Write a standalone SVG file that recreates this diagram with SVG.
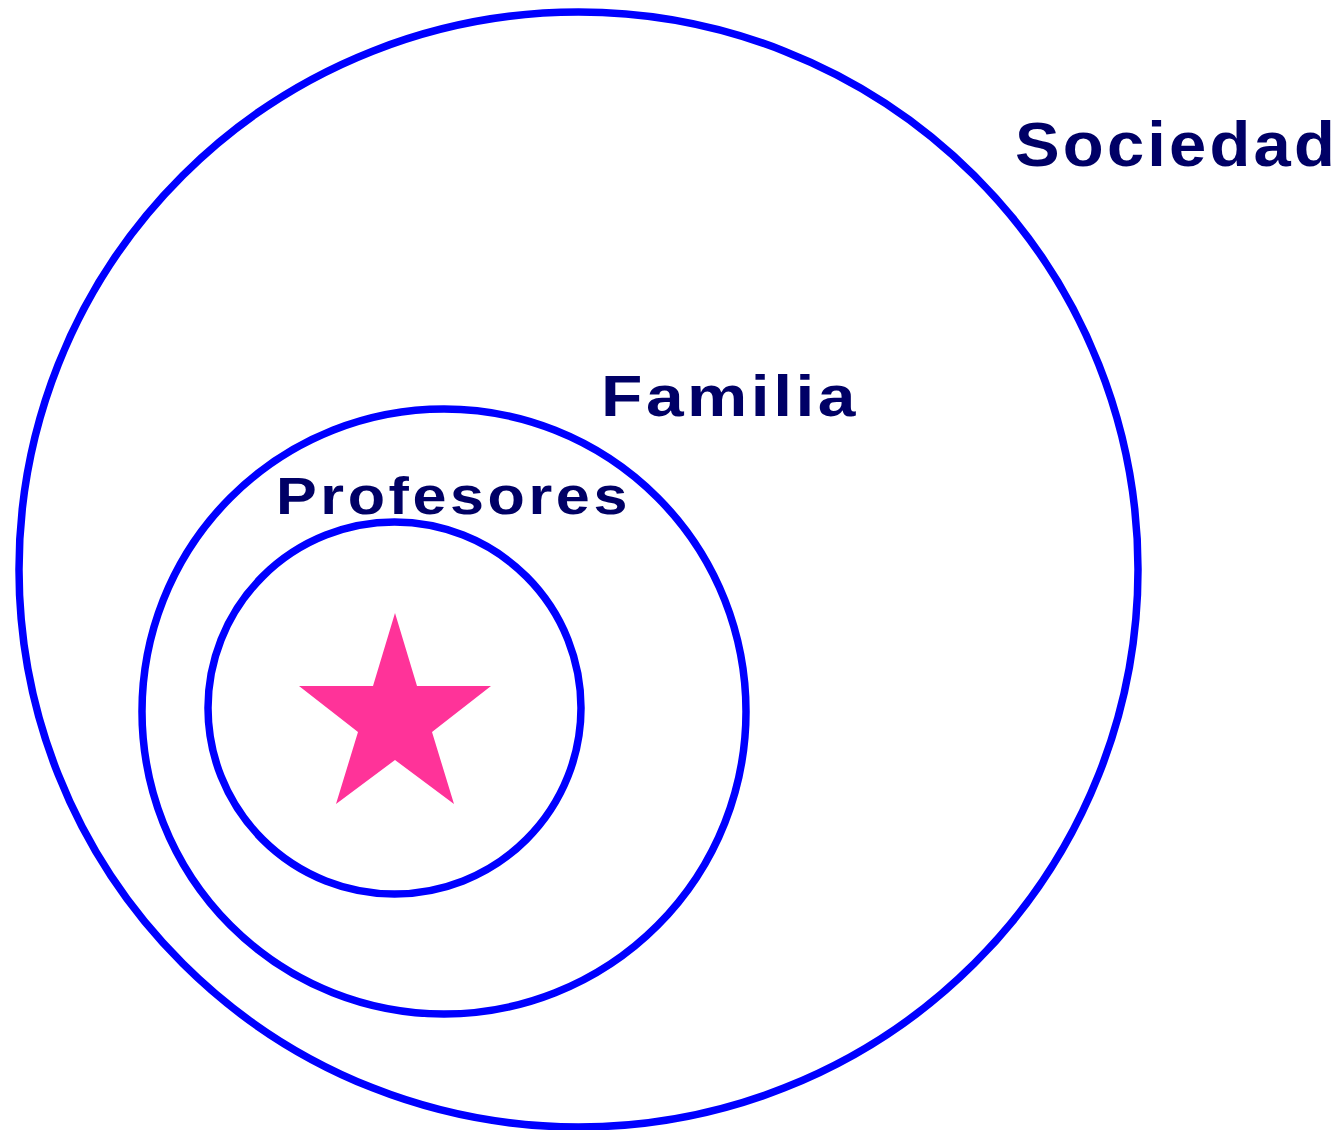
<svg xmlns="http://www.w3.org/2000/svg" width="1339" height="1130" viewBox="0 0 1339 1130">
<style>
.ring{fill:none;stroke:#0000FF;stroke-width:7.5}
.lbl{font-family:"Liberation Sans",Arial,sans-serif;font-weight:bold;fill:#000066;letter-spacing:3px}
</style>
<rect width="1339" height="1130" fill="#FFFFFF"/>
<g id="sociedad">
<ellipse class="ring" cx="578.5" cy="569.5" rx="559.5" ry="557.5"/>
<text class="lbl" x="1015" y="166" font-size="63" textLength="323" lengthAdjust="spacingAndGlyphs">Sociedad</text>
</g>
<g id="familia">
<ellipse class="ring" cx="444" cy="711.5" rx="302" ry="302.5"/>
<text class="lbl" x="601" y="416" font-size="58" textLength="258" lengthAdjust="spacingAndGlyphs">Familia</text>
</g>
<g id="profesores">
<ellipse class="ring" cx="394.5" cy="708" rx="186.5" ry="186"/>
<text class="lbl" x="276" y="514" font-size="51" textLength="355" lengthAdjust="spacingAndGlyphs">Profesores</text>
</g>
<g id="star">
<polygon fill="#FF3399" points="395,613 417,686 491,686 432,732 454,804 395,760 336,804 358,732 299,686 373,686"/>
</g>
<g id="connectors"></g>
</svg>
